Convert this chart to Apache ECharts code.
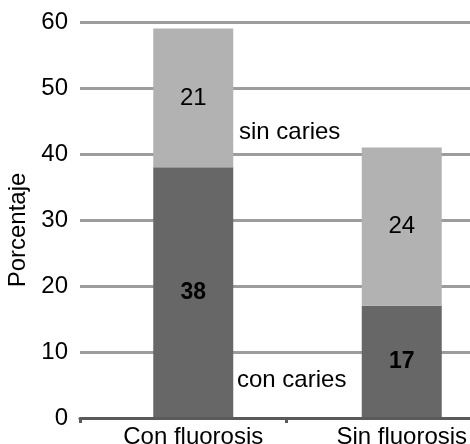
<!DOCTYPE html>
<html><head><meta charset="utf-8">
<script src="https://cdn.jsdelivr.net/npm/echarts@6/dist/echarts.min.js"></script>
<style>html,body{margin:0;padding:0;background:#fff}#c{width:470px;height:444px}</style>
</head><body><div id="c"></div>
<script>
const categories = ['Con fluorosis', 'Sin fluorosis'];
const conCaries = [38, 17];
const sinCaries = [21, 24];
const yTicks = [0, 10, 20, 30, 40, 50, 60];
const annotations = ['sin caries', 'con caries'];

const FONT = 'Liberation Sans, Arial, sans-serif';
const chart = echarts.init(document.getElementById('c'));
chart.setOption({
  animation: false,
  grid: [
    {left: 80, width: 412, top: 22, bottom: 26, outerBoundsMode: 'none', containLabel: false},
    {left: 89, width: 417, top: 22, bottom: 26, outerBoundsMode: 'none', containLabel: false}
  ],
  xAxis: [
    {gridIndex: 0, type: 'category', data: categories, boundaryGap: true,
     axisLine: {show: true, lineStyle: {color: '#5a5a5a', width: 3}},
     axisTick: {show: true, length: 5, lineStyle: {color: '#5a5a5a', width: 3}},
     axisLabel: {show: false}, z: 5},
    {gridIndex: 1, type: 'category', data: categories,
     axisLine: {show: false}, axisTick: {show: false},
     axisLabel: {color: '#000', fontSize: 24, fontFamily: FONT, margin: 7}}
  ],
  yAxis: [
    {gridIndex: 0, type: 'value', min: yTicks[0], max: yTicks[yTicks.length-1], interval: 10,
     name: 'Porcentaje', nameLocation: 'middle', nameGap: 45,
     nameTextStyle: {color: '#000', fontSize: 24, fontFamily: FONT, padding: [0, 20, 0, 0]},
     axisLine: {show: false}, axisTick: {show: false},
     axisLabel: {color: '#000', fontSize: 24, fontFamily: FONT, margin: 12},
     splitLine: {show: true, lineStyle: {color: '#9c9c9c', width: 3}}},
    {gridIndex: 1, type: 'value', min: yTicks[0], max: yTicks[yTicks.length-1], interval: 10,
     show: false, splitLine: {show: false}}
  ],
  series: [
    {type: 'bar', name: 'con caries', xAxisIndex: 1, yAxisIndex: 1, stack: 't', data: conCaries,
     barWidth: 80, itemStyle: {color: '#676767'},
     label: {show: true, position: 'inside', color: '#000', fontWeight: 'bold', fontSize: 23, fontFamily: FONT}},
    {type: 'bar', name: 'sin caries', xAxisIndex: 1, yAxisIndex: 1, stack: 't', data: sinCaries,
     barWidth: 80, itemStyle: {color: '#b2b2b2'},
     label: {show: true, position: 'inside', color: '#000', fontSize: 24, fontFamily: FONT}}
  ],
  graphic: [
    {type: 'text', z: 100, left: 239, top: 120, style: {text: annotations[0], fill: '#000', fontSize: 24, fontFamily: FONT}},
    {type: 'text', z: 100, left: 237, top: 368, style: {text: annotations[1], fill: '#000', fontSize: 24, fontFamily: FONT}}
  ]
});
</script></body></html>
